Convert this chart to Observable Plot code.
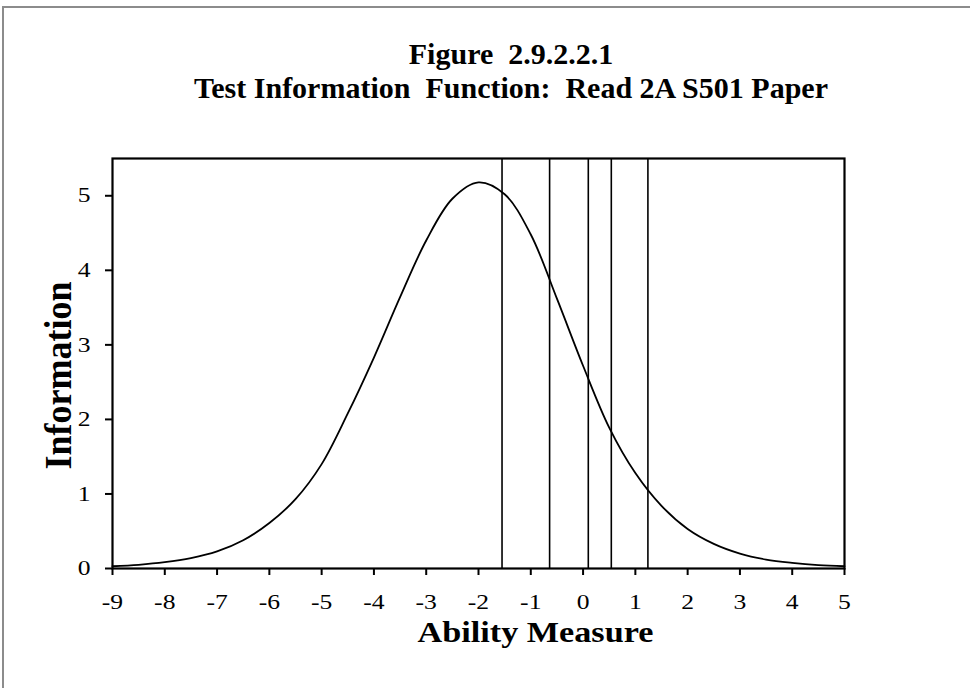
<!DOCTYPE html>
<html>
<head>
<meta charset="utf-8">
<script src="https://cdn.jsdelivr.net/npm/d3@7"></script>
<script src="https://cdn.jsdelivr.net/npm/@observablehq/plot@0.6"></script>
<style>
  html, body { margin: 0; padding: 0; background: #fff; overflow: hidden; }
  #page { position: relative; width: 970px; height: 688px; }
  #border { position: absolute; left: 2px; top: 6px; width: 2000px; height: 2000px;
            border-left: 2px solid #8c8c8c; border-top: 2px solid #8c8c8c; pointer-events: none; }
  #titles { position: relative; height: 110px; }
  .tline { position: absolute; left: 52px; width: 918px; text-align: center;
           font-family: "Liberation Serif", "Times New Roman", serif; font-weight: bold;
           font-size: 30px; line-height: 30px; color: #000; white-space: pre; }
</style>
</head>
<body>
<div id="page">
  <div id="border"></div>
  <div id="titles">
    <div class="tline" id="t1" style="top:39px"></div>
    <div class="tline" id="t2" style="top:73px"></div>
  </div>
  <div id="chart"></div>
</div>
<script>
// ---- data ----
const titleLines = ["Figure  2.9.2.2.1", "Test Information  Function:  Read 2A S501 Paper"];
const xTitle = "Ability Measure";
const yTitle = "Information";
const ability = [-9, -8.5, -8, -7.5, -7, -6.5, -6, -5.5, -5, -4.5, -4, -3.5, -3, -2.5, -2,
                 -1.5, -1, -0.5, 0, 0.5, 1, 1.5, 2, 2.5, 3, 3.5, 4, 4.5, 5];
const information = [0.03, 0.05, 0.085, 0.14, 0.23, 0.38, 0.61, 0.93, 1.40, 2.08, 2.83, 3.64, 4.40, 4.96, 5.18,
                     5.02, 4.48, 3.62, 2.72, 1.89, 1.28, 0.84, 0.53, 0.33, 0.20, 0.12, 0.075, 0.045, 0.03];
const cutScores = [-1.55, -0.64, 0.10, 0.54, 1.24];
const xTicks = [-9, -8, -7, -6, -5, -4, -3, -2, -1, 0, 1, 2, 3, 4, 5];
const yTicks = [0, 1, 2, 3, 4, 5];

document.getElementById("t1").textContent = titleLines[0];
document.getElementById("t2").textContent = titleLines[1];

const curve = ability.map((a, i) => ({ability: a, information: information[i]}));

const svg = Plot.plot({
  width: 970,
  height: 578,
  marginTop: 48,
  marginBottom: 120,
  marginLeft: 112,
  marginRight: 126,
  style: {fontFamily: "'Liberation Serif', 'Times New Roman', serif", fontSize: "21px", color: "#000", background: "transparent"},
  x: {domain: [-9, 5]},
  y: {domain: [0, 5.5]},
  marks: [
    Plot.line(curve, {x: "ability", y: "information", curve: "catmull-rom", stroke: "#000", strokeWidth: 1.8}),
    Plot.ruleX(cutScores, {stroke: "#000", strokeWidth: 1.6}),
    Plot.frame({stroke: "#000", strokeWidth: 2.2}),
    Plot.axisX({ticks: xTicks, tickSize: 7, tickPadding: 19, strokeWidth: 2, label: null, fontSize: 21, tickFormat: d => String(d)}),
    Plot.axisY({ticks: yTicks, tickSize: 7, tickPadding: 15, strokeWidth: 2, label: null, fontSize: 21, tickFormat: d => String(d)}),
    Plot.text([xTitle], {frameAnchor: "bottom", textAnchor: "middle", lineAnchor: "middle", dx: 57, dy: 64, fontSize: 28.5, fontWeight: "bold", fill: "#000"}),
    Plot.text([yTitle], {frameAnchor: "left", textAnchor: "middle", lineAnchor: "middle", rotate: -90, dx: -53.5, dy: 12, fontSize: 36, fontWeight: "bold", fill: "#000"})
  ]
});
document.getElementById("chart").appendChild(svg);

// the reference's lettering is wider than Liberation Serif: stretch glyphs about their anchors
function stretch(nodes, sx, sy) {
  nodes.forEach(n => {
    const tr = n.getAttribute("transform") || "";
    n.setAttribute("transform", `${tr} scale(${sx},${sy})`);
  });
}
const root = d3.select(svg);
stretch(root.selectAll('g[aria-label="x-axis tick label"] text').nodes(), 1.22, 1);
stretch(root.selectAll('g[aria-label="y-axis tick label"] text').nodes(), 1.22, 1);
const textGroups = root.selectAll('g[aria-label="text"]').nodes();
if (textGroups[0]) stretch(Array.from(textGroups[0].querySelectorAll("text")), 1.2, 1);
if (textGroups[1]) stretch(Array.from(textGroups[1].querySelectorAll("text")), 1, 1.08);
</script>
</body>
</html>
